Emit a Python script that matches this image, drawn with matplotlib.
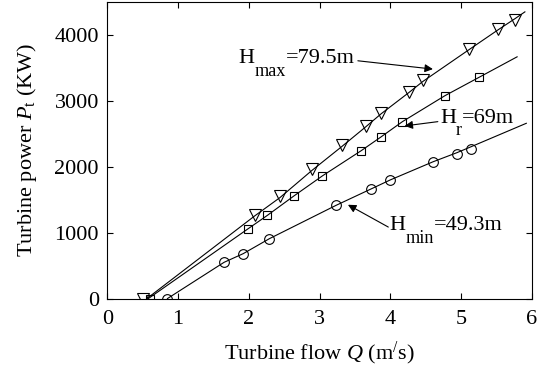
import numpy as np
import matplotlib
matplotlib.use('Agg')
import matplotlib.pyplot as plt
from matplotlib.transforms import offset_copy

plt.rcParams['font.family'] = ['Liberation Serif', 'DejaVu Serif']
plt.rcParams['mathtext.fontset'] = 'custom'
plt.rcParams['mathtext.rm'] = 'Liberation Serif'
plt.rcParams['mathtext.it'] = 'Liberation Serif:italic'

# data: flow Q (m3/s), power P (kW)
Q_max = [0.51, 2.08, 2.44, 2.89, 3.31, 3.65, 3.87, 4.26, 4.46, 5.11, 5.52, 5.76]
P_max = [0, 1270, 1547, 1960, 2327, 2615, 2816, 3134, 3310, 3788, 4091, 4227]
Q_max_line = [0.56, 2.08, 2.44, 2.89, 3.31, 3.65, 3.87, 4.26, 4.46, 5.11, 5.52, 5.76, 5.90]
P_max_line = [0, 1250, 1530, 1940, 2300, 2600, 2800, 3120, 3290, 3770, 4070, 4240, 4343]

Q_r = [0.60, 1.99, 2.26, 2.64, 3.04, 3.59, 3.86, 4.17, 4.77, 5.25]
P_r = [0, 1058, 1259, 1557, 1859, 2242, 2443, 2680, 3073, 3350]
Q_r_line = [0.58, 1.99, 2.26, 2.64, 3.04, 3.59, 3.86, 4.17, 4.77, 5.25, 5.79]
P_r_line = [0, 1058, 1259, 1557, 1859, 2242, 2443, 2680, 3073, 3350, 3662]

Q_min = [0.85, 1.65, 1.92, 2.29, 3.23, 3.73, 4.00, 4.60, 4.94, 5.14]
P_min = [0, 549, 680, 907, 1411, 1662, 1798, 2071, 2191, 2267]
Q_min_line = [0.85, 1.65, 1.92, 2.29, 3.23, 3.73, 4.00, 4.60, 4.94, 5.14, 5.92]
P_min_line = [0, 549, 680, 907, 1411, 1662, 1798, 2071, 2210, 2300, 2655]

fig = plt.figure(figsize=(5.42, 3.76), dpi=100)
ax = fig.add_axes([0.198, 0.206, 0.7835, 0.790])

lw = 0.8
ax.plot(Q_max_line, P_max_line, 'k-', lw=lw)
ax.plot(Q_r_line, P_r_line, 'k-', lw=lw)
ax.plot(Q_min_line, P_min_line, 'k-', lw=lw)
ax.plot(Q_max, P_max, 'v', ms=8, mfc='none', mec='k', mew=0.8)
ax.plot(Q_r, P_r, 's', ms=6, mfc='none', mec='k', mew=0.8)
ax.plot(Q_min, P_min, 'o', ms=7, mfc='none', mec='k', mew=0.8)

fs = 16
renderer = fig.canvas.get_renderer()


def head_label(x, y, sub, rest):
    # H with a large, low subscript, drawn piece by piece
    t = ax.text(x, y, 'H', fontsize=fs)
    w1 = t.get_window_extent(renderer).width * 72 / fig.dpi
    tr = offset_copy(ax.transData, fig=fig, x=w1, y=-9, units='points')
    s = ax.text(x, y, sub, fontsize=fs * 0.82, transform=tr)
    w2 = s.get_window_extent(renderer).width * 72 / fig.dpi
    tr2 = offset_copy(ax.transData, fig=fig, x=w1 + w2, y=0, units='points')
    ax.text(x, y, rest, fontsize=fs, transform=tr2)


arrow = dict(arrowstyle='-|>', color='k', lw=0.8, mutation_scale=12, shrinkA=0, shrinkB=0)
head_label(1.85, 3562, 'max', '=79.5m')
ax.annotate('', xy=(4.60, 3476), xytext=(3.54, 3602), arrowprops=arrow)
head_label(4.70, 2665, 'r', '=69m')
ax.annotate('', xy=(4.20, 2615), xytext=(4.67, 2680), arrowprops=arrow)
head_label(3.99, 1033, 'min', '=49.3m')
ax.annotate('', xy=(3.40, 1421), xytext=(3.97, 1083), arrowprops=arrow)

ax.set_xlim(0, 6)
ax.set_ylim(0, 4500)
ax.set_xticks(range(0, 7))
ax.set_yticks([0, 1000, 2000, 3000, 4000])
ax.tick_params(direction='in', top=True, right=True, length=4, width=0.8, labelsize=16)
ax.tick_params(axis='x', pad=8)
ax.tick_params(axis='y', pad=6)
for s in ax.spines.values():
    s.set_linewidth(0.8)

ax.set_xlabel(r'Turbine flow $Q$ (m$^{/}$s)', fontsize=16, labelpad=8)
ax.set_ylabel(r'Turbine power $P_{\rm t}$ (KW)', fontsize=16, labelpad=11)

fig.savefig('out.png', dpi=100)
